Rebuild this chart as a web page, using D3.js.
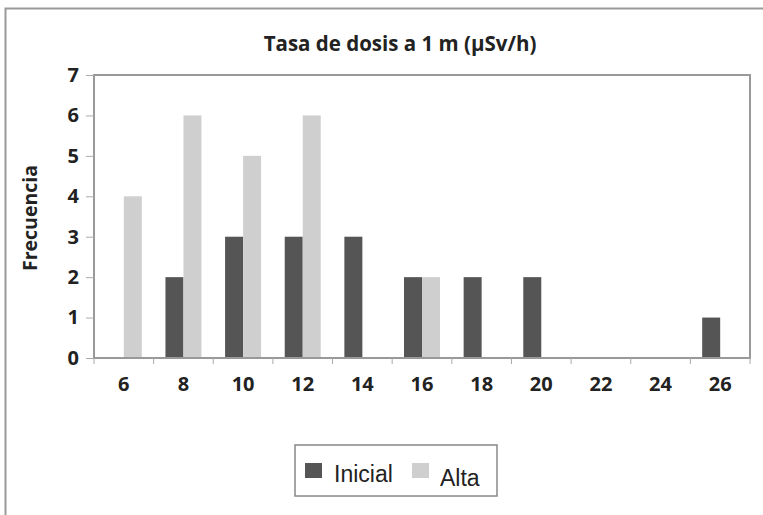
<!DOCTYPE html>
<meta charset="utf-8">
<style>
  body { margin: 0; background: #fff; }
  text { font-family: "Open Sans", "DejaVu Sans", sans-serif; fill: #222; }
</style>
<body>
<div id="chart"></div>
<script src="https://d3js.org/d3.v7.min.js"></script>
<script>

// Data
var categories = ["6", "8", "10", "12", "14", "16", "18", "20", "22", "24", "26"];
var inicial = [0, 2, 3, 3, 3, 2, 2, 2, 0, 0, 1];
var alta    = [4, 6, 5, 6, 0, 2, 0, 0, 0, 0, 0];
var series  = ["Inicial", "Alta"];
var yTicks  = [0, 1, 2, 3, 4, 5, 6, 7];

var W = 763, H = 515;
var margin = {top: 75, right: 14, bottom: 157, left: 94},
    width = 750 - margin.left,
    height = 358 - margin.top;

var colors = {Inicial: "#555555", Alta: "#cfcfcf"};

var svg = d3.select("#chart").append("svg")
    .attr("width", W)
    .attr("height", H);

// outer frame (only top and left edges show)
svg.append("path")
    .attr("d", "M5.5,515 L5.5,8.5 L763,8.5")
    .attr("fill", "none")
    .attr("stroke", "#999")
    .attr("stroke-width", 2);

svg.append("text")
    .attr("x", 400)
    .attr("y", 51)
    .attr("text-anchor", "middle")
    .style("font-size", "20.5px")
    .style("font-weight", "bold")
    .text("Tasa de dosis a 1 m (µSv/h)");

var g = svg.append("g")
    .attr("transform", "translate(" + margin.left + "," + margin.top + ")");

var x = d3.scaleBand().domain(categories).range([0, width]);
var xs = d3.scaleBand().domain(series).range([x.bandwidth() / 2 - 18, x.bandwidth() / 2 + 18]);
var y = d3.scaleLinear().domain([0, 7]).range([height, 0]);

// bars
var rows = categories.map(function(c, i) {
  return {cat: c, values: [{s: "Inicial", v: inicial[i]}, {s: "Alta", v: alta[i]}]};
});

g.selectAll(".grp")
  .data(rows)
  .enter().append("g")
    .attr("transform", function(d) { return "translate(" + x(d.cat) + ",0)"; })
  .selectAll("rect")
  .data(function(d) { return d.values.filter(function(e) { return e.v > 0; }); })
  .enter().append("rect")
    .attr("x", function(d) { return xs(d.s); })
    .attr("width", xs.bandwidth())
    .attr("y", function(d) { return y(d.v); })
    .attr("height", function(d) { return height - y(d.v); })
    .attr("fill", function(d) { return colors[d.s]; });

// plot frame
g.append("rect")
    .attr("width", width)
    .attr("height", height)
    .attr("fill", "none")
    .attr("stroke", "#999")
    .attr("stroke-width", 2);

// y axis
var yAxis = g.append("g")
    .call(d3.axisLeft(y).tickValues(yTicks).tickSize(8).tickPadding(7).tickFormat(d3.format("d")));
yAxis.select(".domain").remove();
yAxis.selectAll("line").attr("stroke", "#aaa");
yAxis.selectAll("text")
    .style("font-size", "20px")
    .style("font-weight", "bold")
    .style("font-family", "'Open Sans', sans-serif")
    .attr("fill", "#222");

// x axis: ticks between categories
var xAxis = g.append("g")
    .attr("transform", "translate(0," + height + ")")
    .call(d3.axisBottom(x).tickSize(0).tickPadding(19));
xAxis.select(".domain").remove();
xAxis.selectAll("text")
    .style("font-size", "20px")
    .style("font-weight", "bold")
    .style("font-family", "'Open Sans', sans-serif")
    .attr("fill", "#222");

g.append("g")
    .attr("transform", "translate(0," + height + ")")
  .selectAll("line")
  .data(categories.concat(["end"]))
  .enter().append("line")
    .attr("x1", function(d, i) { return i * x.step(); })
    .attr("x2", function(d, i) { return i * x.step(); })
    .attr("y1", 0)
    .attr("y2", 6)
    .attr("stroke", "#aaa");

// y label
svg.append("text")
    .attr("transform", "translate(37,218) rotate(-90)")
    .attr("text-anchor", "middle")
    .style("font-size", "19.5px")
    .style("font-weight", "bold")
    .text("Frecuencia");

// legend
var legend = svg.append("g").attr("transform", "translate(295,445)");
legend.append("rect")
    .attr("width", 202)
    .attr("height", 51)
    .attr("fill", "#fff")
    .attr("stroke", "#888")
    .attr("stroke-width", 1.5);

var items = [{s: "Inicial", x: 10, tx: 39, ty: 37}, {s: "Alta", x: 117, tx: 145, ty: 41}];
items.forEach(function(it) {
  legend.append("rect")
      .attr("x", it.x)
      .attr("y", 18)
      .attr("width", 17)
      .attr("height", 15)
      .attr("fill", colors[it.s]);
  legend.append("text")
      .attr("x", it.tx)
      .attr("y", it.ty)
      .style("font-family", "'Liberation Sans', Arial, sans-serif")
      .style("font-size", "23px")
      .text(it.s);
});

</script>
</body>
